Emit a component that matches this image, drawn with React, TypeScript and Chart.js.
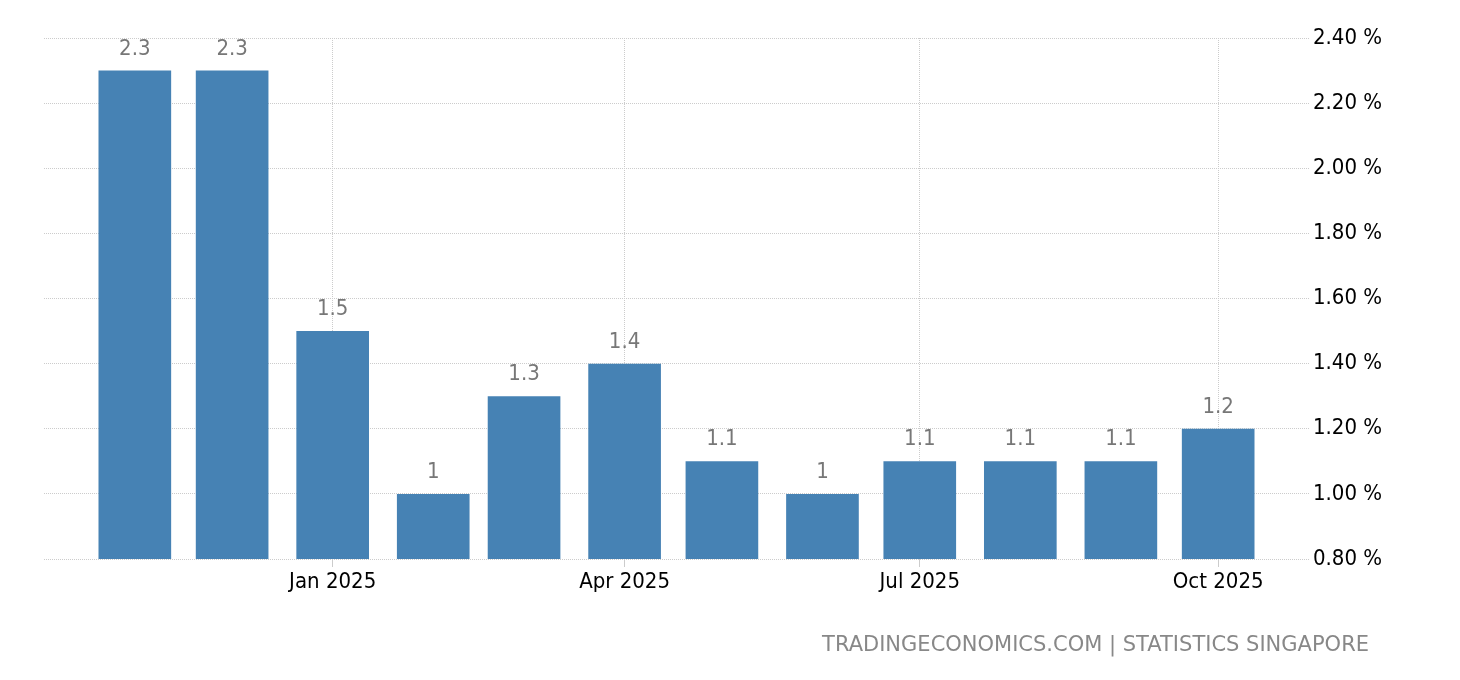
import React, { useEffect, useRef } from "react";
import { Chart, registerables } from "chart.js";

Chart.register(...registerables);

const months: string[] = [
  "2024-11", "2024-12", "2025-01", "2025-02", "2025-03", "2025-04",
  "2025-05", "2025-06", "2025-07", "2025-08", "2025-09", "2025-10",
];
const values: number[] = [2.3, 2.3, 1.5, 1.0, 1.3, 1.4, 1.1, 1.0, 1.1, 1.1, 1.1, 1.2];
const valueLabels: string[] = ["2.3", "2.3", "1.5", "1", "1.3", "1.4", "1.1", "1", "1.1", "1.1", "1.1", "1.2"];
const tickMonths: string[] = ["2025-01", "2025-04", "2025-07", "2025-10"];
const tickLabels: string[] = ["Jan 2025", "Apr 2025", "Jul 2025", "Oct 2025"];
const yMin = 0.8;
const yMax = 2.4;
const yStep = 0.2;
const sourceText = "TRADINGECONOMICS.COM | STATISTICS SINGAPORE";

const toDay = (m: string): number => {
  const [y, mo] = m.split("-").map(Number);
  return Date.UTC(y, mo - 1, 1) / 86400000;
};

const FONT = "'DejaVu Sans Condensed', 'DejaVu Sans', sans-serif";
const WM_FONT = "'DejaVu Sans', sans-serif";

export default function App() {
  const ref = useRef<HTMLCanvasElement | null>(null);

  useEffect(() => {
    if (!ref.current) return;
    const days = months.map(toDay);
    const tickDays = tickMonths.map(toDay);
    const pad = 28;

    const labelPlugin = {
      id: "barLabels",
      afterDatasetsDraw(chart: any) {
        const ctx = chart.ctx;
        const meta = chart.getDatasetMeta(0);
        ctx.save();
        ctx.font = `22px ${FONT}`;
        ctx.fillStyle = "#777777";
        ctx.textAlign = "center";
        ctx.textBaseline = "alphabetic";
        meta.data.forEach((bar: any, i: number) => {
          ctx.fillText(valueLabels[i], bar.x, bar.y - 16);
        });
        ctx.restore();
      },
      afterDraw(chart: any) {
        const ctx = chart.ctx;
        ctx.save();
        ctx.font = `21px ${WM_FONT}`;
        ctx.fillStyle = "#888888";
        ctx.textAlign = "right";
        ctx.textBaseline = "alphabetic";
        ctx.fillText(sourceText, 1369, 651, 547);
        ctx.restore();
      },
    };

    const chart = new Chart(ref.current, {
      type: "bar",
      data: {
        datasets: [
          {
            data: days.map((d, i) => ({ x: d, y: values[i] })),
            backgroundColor: "#4682B4",
            borderWidth: 0,
            categoryPercentage: 1,
            barPercentage: 0.8,
          },
        ],
      },
      options: {
        responsive: false,
        animation: false,
        events: [],
        layout: { padding: { left: 44, top: 38, right: 0, bottom: 0 } },
        plugins: {
          legend: { display: false },
          tooltip: { enabled: false },
          title: { display: false },
        },
        scales: {
          x: {
            type: "linear",
            offset: false,
            min: days[0] - pad,
            max: days[days.length - 1] + pad,
            afterBuildTicks(scale: any) {
              scale.ticks = tickDays.map((v) => ({ value: v }));
            },
            afterFit(scale: any) {
              scale.height = 121;
            },
            ticks: {
              autoSkip: false,
              maxRotation: 0,
              padding: 2,
              color: "#000000",
              font: { family: FONT, size: 22 },
              callback: (v: any) => {
                const idx = tickDays.indexOf(Number(v));
                return idx >= 0 ? tickLabels[idx] : "";
              },
            },
            grid: {
              display: true,
              offset: false,
              color: "#cccccc",
              lineWidth: 1,
              drawTicks: true,
              tickLength: 8,
              tickColor: "#cccccc",
              tickBorderDash: [],
            },
            border: { display: false, dash: [1, 1] },
          },
          y: {
            type: "linear",
            position: "right",
            min: yMin,
            max: yMax,
            afterFit(scale: any) {
              scale.width = 151;
            },
            ticks: {
              stepSize: yStep,
              padding: 4,
              color: "#000000",
              font: { family: FONT, size: 22 },
              callback: (v: any) => `${Number(v).toFixed(2)} %`,
            },
            grid: {
              display: true,
              color: "#cccccc",
              lineWidth: 1,
              drawTicks: false,
            },
            border: { display: false, dash: [1, 1] },
          },
        },
      },
      plugins: [labelPlugin],
    } as any);

    return () => chart.destroy();
  }, []);

  return (
    <div style={{ position: "absolute", left: 0, top: 0, width: 1460, height: 680, background: "#ffffff" }}>
      <canvas ref={ref} width={1460} height={680} style={{ display: "block" }} />
    </div>
  );
}
